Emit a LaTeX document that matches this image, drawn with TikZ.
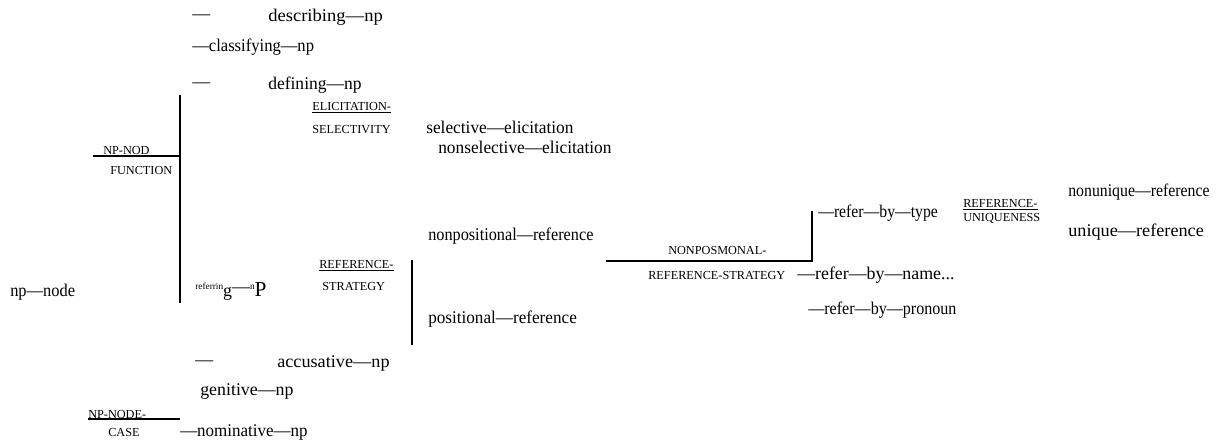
\documentclass[tikz,border=0pt]{standalone}
\usepackage{fontspec}
\usepackage{graphicx}
\setmainfont{Liberation Serif}
\newcommand\md{\fontsize{13.4}{15}\selectfont}
\newcommand\sm{\fontsize{9.2}{11}\selectfont}
\newcommand\tn{\fontsize{7}{8}\selectfont}
\newcommand\cnd[2]{\scalebox{#1}[1]{#2}}
\begin{document}
\begin{tikzpicture}[x=0.75pt,y=-0.75pt,
  lab/.style={anchor=west,inner sep=0pt,font=\md},
  cat/.style={anchor=west,inner sep=0pt,font=\sm},
  bar/.style={line width=1.1pt},
  thin/.style={line width=0.8pt},
  thick/.style={line width=1.8pt}]
\useasboundingbox (0,0) rectangle (1220,441);
% left root
\node[lab] (npnode) at (10,292) {\cnd{0.92}{np—node}};
% NP-NODE-FUNCTION
\node[cat] (npnod) at (103,151) {NP-NOD};
\node[cat] (function) at (110,171) {FUNCTION};
\coordinate (fl) at (93,156);
\coordinate (fr) at (180,156);
\coordinate (ftop) at (180,95);
\coordinate (fbot) at (180,303);
\draw[thin] (fl) -- (fr);
\draw[bar] (ftop) -- (fbot);
\node[lab] (d1) at (192,17) {—};
\node[lab] (describing) at (268,17) {\cnd{1.04}{describing—np}};
\node[lab] (classifying) at (192,47) {\cnd{0.93}{—classifying—np}};
\node[lab] (d2) at (192,85) {—};
\node[lab] (defining) at (268,85) {\cnd{0.98}{defining—np}};
\node[cat] (elic) at (312,108) {\underline{ELICITATION-}};
\node[cat] (selec) at (312,130) {SELECTIVITY};
\node[lab] (selective) at (426,127) {\cnd{0.97}{selective—elicitation}};
\node[lab] (nonselective) at (438,147) {\cnd{0.97}{nonselective—elicitation}};
\node[lab] (referring) at (195,291) {{\tn\raisebox{5pt}{referrin}}g\raisebox{2.5pt}{—}{\tn\raisebox{5pt}{n}}{\fontsize{16}{18}\selectfont P}};
% reference strategy
\node[cat] (refs1) at (319,266) {\underline{REFERENCE-}};
\node[cat] (refs2) at (322,287) {STRATEGY};
\coordinate (rtop) at (412,260);
\coordinate (rbot) at (412,345);
\draw[bar] (rtop) -- (rbot);
\node[lab] (nonpos) at (428,236) {\cnd{0.91}{nonpositional—reference}};
\node[lab] (pos) at (428,319) {\cnd{0.96}{positional—reference}};
% case
\node[lab] (d3) at (195,363) {—};
\node[lab] (accusative) at (277,363) {\cnd{1.02}{accusative—np}};
\node[lab] (genitive) at (200,392) {genitive—np};
\node[cat] (npnode2) at (88,414) {NP-NODE-};
\coordinate (cl) at (88,419);
\coordinate (cr) at (180,419);
\draw[thin] (cl) -- (cr);
\node[cat] (case) at (108,432) {CASE};
\node[lab] (nominative) at (180,432) {\cnd{0.95}{—nominative—np}};
% nonpositional strategy
\coordinate (nl) at (606,261);
\coordinate (nc) at (812,261);
\coordinate (nt) at (812,211);
\draw[thick] (nl) -- (nc) -- (nt);
\node[cat] (nonposm) at (668,251) {NONPOSMONAL-};
\node[cat] (refstrat) at (648,275) {REFERENCE-STRATEGY};
\node[lab] (bytype) at (818,213) {\cnd{0.88}{—refer—by—type}};
\node[lab] (byname) at (797,275) {\cnd{1.0}{—refer—by—name...}};
\node[lab] (bypron) at (808,310) {\cnd{0.9}{—refer—by—pronoun}};
% uniqueness
\node[cat] (uniq1) at (963,205) {\underline{REFERENCE-}};
\node[cat] (uniq2) at (963,218) {UNIQUENESS};
\node[lab] (nonunique) at (1068,192) {\cnd{0.885}{nonunique—reference}};
\node[lab] (unique) at (1068,232) {\cnd{1.02}{unique—reference}};
\end{tikzpicture}
\end{document}
